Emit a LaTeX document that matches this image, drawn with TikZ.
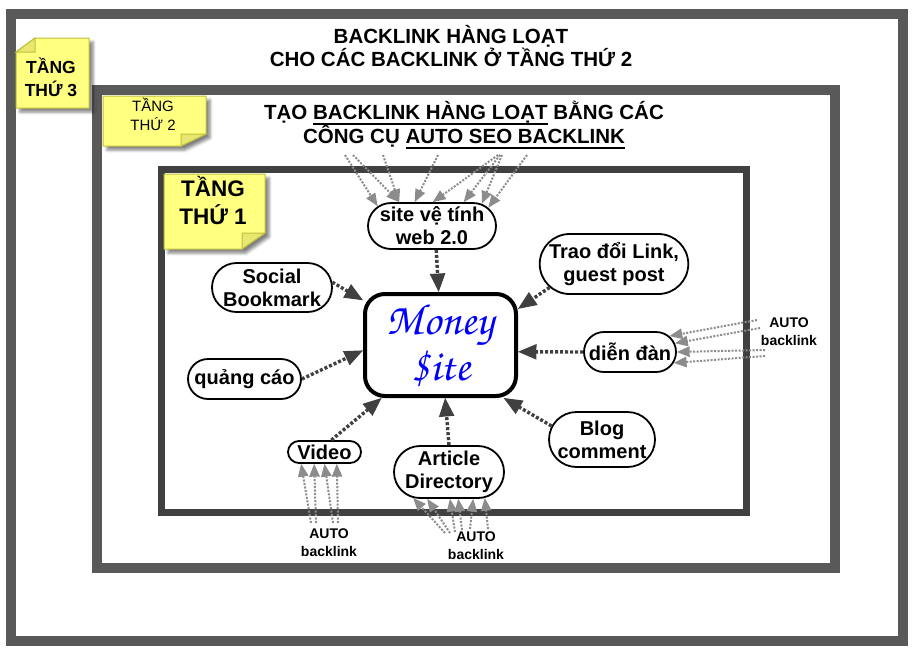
\documentclass[tikz,border=0pt]{standalone}
\usepackage{fontspec}
\setmainfont{Liberation Sans}
\usetikzlibrary{arrows,shapes.misc,shadows.blur}
\definecolor{khung}{HTML}{595959}
\definecolor{khungtrong}{HTML}{404040}
\definecolor{giayvang}{HTML}{FFFF80}
\definecolor{viengiay}{HTML}{BFBF3F}
\definecolor{gapgiay}{HTML}{E8E870}
\definecolor{muitendam}{HTML}{404040}
\definecolor{muitenxam}{HTML}{8C8C8C}
\newsavebox{\gachbox}
\newcommand{\gach}[1]{\sbox{\gachbox}{#1}\rlap{\rule[-5pt]{\wd\gachbox}{2pt}}\usebox{\gachbox}}
\newcommand{\chumoney}{\fontencoding{T1}\fontfamily{pzc}\fontseries{m}\fontshape{it}\fontsize{44}{41}\selectfont}

\begin{document}
\begin{tikzpicture}[line join=miter,>=triangle 45,x=1pt,y=-1pt,
bub/.style={draw,rounded rectangle,line width=1.8pt,inner ysep=0pt,inner xsep=0pt,
align=center,fill=white,font=\bfseries\fontsize{20}{23}\selectfont},
giay/.style={fill=giayvang,draw=viengiay,line width=1pt,
blur shadow={shadow xshift=4pt,shadow yshift=-4pt,shadow blur radius=3pt,shadow opacity=50}},
gap/.style={fill=gapgiay,draw=viengiay,line width=1pt},
link/.style={->,draw=muitendam,line width=3.4pt,dash pattern=on 3pt off 2pt},
autolink/.style={->,draw=muitenxam,line width=2pt,dash pattern=on 2pt off 1.5pt},
nhan/.style={font=\bfseries\fontsize{14}{18}\selectfont,align=center}]
\useasboundingbox (0,0) rectangle (913,659);
% Vẽ 3 khung (3 tầng)
\draw[line width=10pt,khung] (11,14) rectangle (903,641);
\draw[line width=10pt,khung] (97,90) rectangle (835,568);
\draw[line width=7pt,khungtrong] (161.5,169.5) rectangle (746.5,512.5);
% Tiêu đề
\node[font=\bfseries\fontsize{20.5}{23}\selectfont,align=center] (tieude3) at (451,46)
{BACKLINK HÀNG LOẠT\\CHO CÁC BACKLINK Ở TẦNG THỨ 2};
\node[font=\bfseries\fontsize{20.5}{21}\selectfont,align=center] (tieude2) at (464,125)
{TẠO \gach{BACKLINK HÀNG LOẠT} BẰNG CÁC\\CÔNG CỤ \gach{AUTO SEO BACKLINK}};
% Mấy tờ giấy vàng
\path[giay] (16,52) -- (35,38) -- (89,38) -- (89,108) -- (16,108) -- cycle;
\filldraw[gap] (16,52) -- (35,38) -- (35,52) -- cycle;
\node[font=\bfseries\fontsize{17.5}{23}\selectfont,align=center] (tang3) at (51,77) {TẦNG\\THỨ 3};
\path[giay] (103,96) -- (206,96) -- (206,134) -- (181,146) -- (103,146) -- cycle;
\filldraw[gap] (181,134) -- (206,134) -- (181,146) -- cycle;
\node[font=\fontsize{15}{19}\selectfont,align=center] (tang2) at (153,114) {TẦNG\\THỨ 2};
\path[giay] (164,174) -- (265,174) -- (265,233) -- (242,249) -- (164,249) -- cycle;
\filldraw[gap] (242,233) -- (265,233) -- (242,249) -- cycle;
\node[font=\bfseries\fontsize{22.5}{28}\selectfont,align=center] (tang1) at (213,201) {TẦNG\\THỨ 1};
% Money site ở giữa
\node[draw,line width=4pt,rounded corners=20pt,minimum width=151pt,minimum height=102pt,
inner sep=0pt,fill=white,text=blue,font=\chumoney,align=center] (money) at (440.5,345) {Money\\\$ite};
% Các vệ tinh
\node[bub,minimum width=128pt,minimum height=46pt] (web) at (432,226) {site vệ tính\\web 2.0};
\node[bub,minimum width=146pt,minimum height=60pt] (trao) at (614,264) {Trao đổi Link,\\guest post};
\node[bub,minimum width=120pt,minimum height=49pt] (social) at (272,287.5) {Social\\Bookmark};
\node[bub,minimum width=92pt,minimum height=40pt] (dien) at (630,352) {diễn đàn};
\node[bub,minimum width=113pt,minimum height=40pt] (qc) at (244.5,379) {quảng cáo};
\node[bub,minimum width=106pt,minimum height=55pt] (blog) at (602,439.5) {Blog\\comment};
\node[bub,minimum width=73pt,minimum height=22pt] (video) at (324.5,452) {Video};
\node[bub,minimum width=110pt,minimum height=52pt] (article) at (449,472) {Article\\Directory};
% Mũi tên vào money site
\draw[link] (web.-80) -- (money.92);
\draw[link] (social.5) -- (money.150);
\draw[link] (trao.200) -- (money.25);
\draw[link] (qc.east) -- (money.184);
\draw[link] (dien.west) -- (money.-5);
\draw[link] (blog.165) -- (money.-40);
\draw[link] (video.60) -- (money.222);
\draw[link] (article.north) -- (money.-85);
% AUTO backlink
\node[nhan] (autophai) at (789,332) {AUTO\\backlink};
\node[nhan] (autovideo) at (329,543) {AUTO\\backlink};
\node[nhan] (autoarticle) at (476,546) {AUTO\\backlink};
\foreach \sx/\sy/\a [count=\i] in {345/155/160,353/155/144,383/155/144,438/155/126,
498/155/88,500/155/37,502/155/24,527/155/18}
{\coordinate (w\i) at (\sx,\sy);
\draw[autolink] (w\i) -- (web.\a);}
\foreach \sx/\sy/\a [count=\i] in {757/320/22,760/328/11,765/350/0,765/356/-14}
{\coordinate (d\i) at (\sx,\sy);
\draw[autolink] (d\i) -- (dien.\a);}
\foreach \sx/\sy/\a [count=\i] in {311/523/207,316/523/229,333/523/270,338/523/-44}
{\coordinate (v\i) at (\sx,\sy);
\draw[autolink] (v\i) -- (video.\a);}
\foreach \sx/\sy/\a [count=\i] in {445/533/216,450/533/231,455/532/272,462/530/-71,
470/529/-48,488/529/-36}
{\coordinate (a\i) at (\sx,\sy);
\draw[autolink] (a\i) -- (article.\a);}
\end{tikzpicture}
\end{document}
